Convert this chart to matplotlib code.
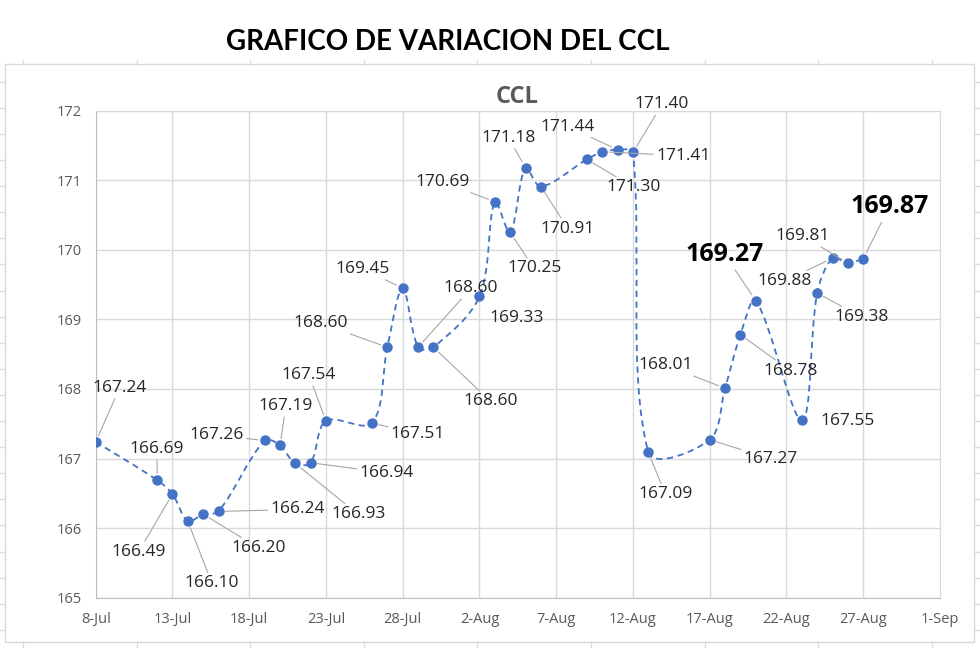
import datetime as dt
import numpy as np
import matplotlib
matplotlib.use('Agg')
import matplotlib.pyplot as plt
import matplotlib.dates as mdates
from matplotlib.path import Path
from matplotlib.patches import PathPatch, Rectangle
from matplotlib.lines import Line2D

# cotizacion CCL diaria (jul-ago)
fechas = ['2021-07-08', '2021-07-12', '2021-07-13', '2021-07-14', '2021-07-15',
          '2021-07-16', '2021-07-19', '2021-07-20', '2021-07-21', '2021-07-22',
          '2021-07-23', '2021-07-26', '2021-07-27', '2021-07-28', '2021-07-29',
          '2021-07-30', '2021-08-02', '2021-08-03', '2021-08-04', '2021-08-05',
          '2021-08-06', '2021-08-09', '2021-08-10', '2021-08-11', '2021-08-12',
          '2021-08-13', '2021-08-17', '2021-08-18', '2021-08-19', '2021-08-20',
          '2021-08-23', '2021-08-24', '2021-08-25', '2021-08-26', '2021-08-27']
ccl = [167.24, 166.69, 166.49, 166.10, 166.20, 166.24, 167.26, 167.19, 166.93,
       166.94, 167.54, 167.51, 168.60, 169.45, 168.60, 168.60, 169.33, 170.69,
       170.25, 171.18, 170.91, 171.30, 171.41, 171.44, 171.40, 167.09, 167.27,
       168.01, 168.78, 169.27, 167.55, 169.38, 169.88, 169.81, 169.87]
destacados = ['2021-08-20', '2021-08-27']

# posicion de cada etiqueta respecto del punto (pixeles)
offsets = [(24, 54), (0, 31), (-34, -58), (24, -62), (56, -34), (79, 2), (-48, 5),
           (6, 39), (63, -51), (76, -10), (-17, 46), (46, -11), (-67, 24), (-40, 19),
           (53, 59), (57, -54), (37, -22), (-52, 20), (24, -36), (-17, 30), (27, -42),
           (47, -28), (81, -4), (-50, 23), (29, 48), (17, -42), (61, -19), (-59, 23),
           (50, -36), (-31, 46), (46, -1), (44, -24), (-48, -23), (-45, 27), (26, 52)]
sin_guia = ['2021-08-02', '2021-08-23']

azul = '#4472C4'
gris = '#595959'
W, H = 980, 648

x = mdates.date2num([dt.datetime.strptime(f, '%Y-%m-%d') for f in fechas])
y = np.array(ccl)

fig = plt.figure(figsize=(9.8, 6.48), dpi=100)
ax = fig.add_axes([95.7 / W, 1 - 597.7 / H, (940 - 95.7) / W, (597.7 - 110.7) / H])

# lineas de la hoja de calculo que asoman alrededor del grafico
for px in np.arange(23, W, 113.6):
    fig.add_artist(Line2D([px / W] * 2, [1 - 60 / H, 1 - 64 / H], color='#dcdcdc', lw=1))
    fig.add_artist(Line2D([px / W] * 2, [1 - 642 / H, 0], color='#dcdcdc', lw=1))
for py in np.arange(81.7, H, 26.1):
    fig.add_artist(Line2D([0, 5 / W], [1 - py / H] * 2, color='#dcdcdc', lw=1))
    fig.add_artist(Line2D([974 / W, 1], [1 - py / H] * 2, color='#dcdcdc', lw=1))

# borde del area del grafico
fig.patches.append(Rectangle((5 / W, 1 - 642 / H), 969 / W, 578 / H,
                             transform=fig.transFigure, fill=False,
                             edgecolor='#d9d9d9', lw=1))

x0 = mdates.date2num(dt.datetime(2021, 7, 8))
x1 = mdates.date2num(dt.datetime(2021, 9, 1))
ax.set_xlim(x0, x1)
ax.set_ylim(165, 172)

# linea suavizada (bezier, tangentes pesadas por largo de tramo)
pts = np.column_stack([x, y])
d = np.hypot(*np.diff(ax.transData.transform(pts), axis=0).T)
n = len(pts)


def tangente(i, lado):
    a, b = max(i - 1, 0), min(i + 1, n - 1)
    da = d[i - 1] if i > 0 else 0
    db = d[i] if i < n - 1 else 0
    peso = (db if lado == 'sal' else da) / (da + db)
    return (pts[b] - pts[a]) * peso / 3


verts = [tuple(pts[0])]
codes = [Path.MOVETO]
for i in range(n - 1):
    verts += [tuple(pts[i] + tangente(i, 'sal')),
              tuple(pts[i + 1] - tangente(i + 1, 'ent')),
              tuple(pts[i + 1])]
    codes += [Path.CURVE4] * 3
ax.add_patch(PathPatch(Path(verts, codes), fill=False, edgecolor=azul, lw=1.3,
                       linestyle=(0, (3.5, 2.5)), zorder=3))
ax.plot(x, y, 'o', color=azul, ms=6.5, zorder=4)

for xi, yi, f, (dx, dy) in zip(x, y, fechas, offsets):
    bold = f in destacados
    arrow = None
    if f not in sin_guia:
        arrow = dict(arrowstyle='-', color='#a6a6a6', lw=0.8, shrinkA=0, shrinkB=5)
    ax.annotate(f'{yi:.2f}', (xi, yi), xytext=(dx, dy), textcoords='offset pixels',
                ha='center', va='center', family='Open Sans',
                fontsize=18 if bold else 12.5,
                fontweight='bold' if bold else 'normal',
                color='black' if bold else '#262626',
                arrowprops=arrow, zorder=5)

ax.set_xticks(np.arange(x0, x1 + 1, 5))
ax.xaxis.set_major_formatter(mdates.DateFormatter('%-d-%b'))
ax.set_yticks(range(165, 173))
ax.grid(True, color='#d9d9d9', lw=1)
ax.set_axisbelow(True)
for s in ax.spines.values():
    s.set_color('#d9d9d9')
ax.spines['left'].set_color('#bfbfbf')
ax.spines['bottom'].set_color('#bfbfbf')
ax.tick_params(length=0, labelcolor=gris, labelsize=10.5, pad=10)
for lab in ax.get_xticklabels() + ax.get_yticklabels():
    lab.set_family('Open Sans')

fig.text(517 / W, 1 - 97 / H, 'CCL', ha='center', va='center',
         family='Open Sans', fontsize=17, fontweight='bold', color=gris)
fig.text(448 / W, 1 - 42 / H, 'GRAFICO DE VARIACION DEL CCL', ha='center',
         va='center', family='Lato', fontsize=20, fontweight='bold', color='black')

fig.savefig('out.png', dpi=100)
